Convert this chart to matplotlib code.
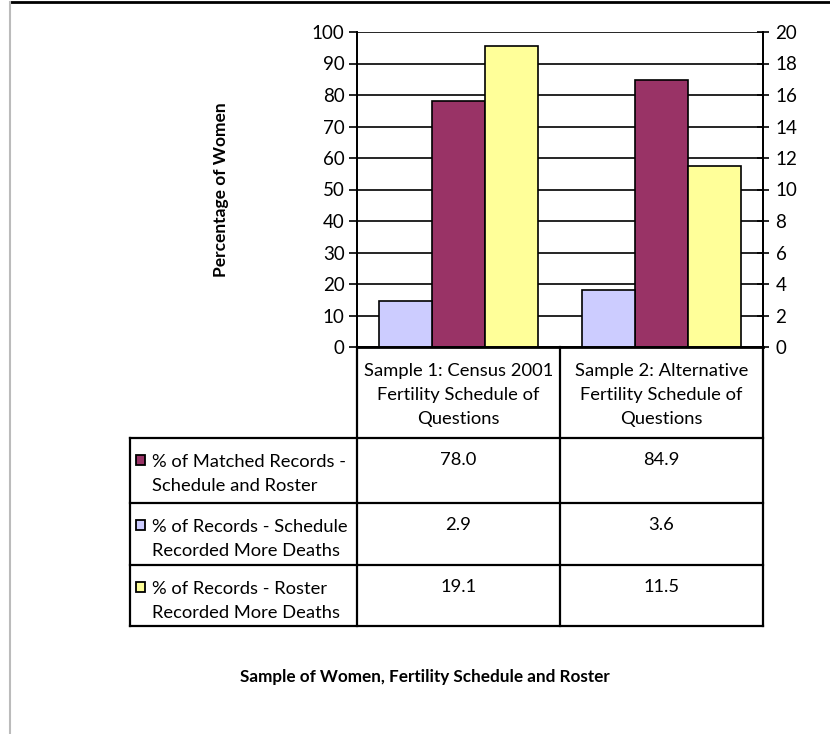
import matplotlib
matplotlib.use("Agg")
import matplotlib.pyplot as plt
from matplotlib.lines import Line2D
from matplotlib.patches import Rectangle

plt.rcParams['font.family'] = ['Lato', 'DejaVu Sans']

# data
categories = ["Sample 1: Census 2001\nFertility Schedule of\nQuestions",
              "Sample 2: Alternative\nFertility Schedule of\nQuestions"]
series_names = ["% of Matched Records -\nSchedule and Roster",
                "% of Records - Schedule\nRecorded More Deaths",
                "% of Records - Roster\nRecorded More Deaths"]
matched = [78.0, 84.9]          # left axis
schedule_more = [2.9, 3.6]      # right axis
roster_more = [19.1, 11.5]      # right axis
colors = ["#993366", "#CCCCFF", "#FFFF99"]

W, H = 830, 734
fig = plt.figure(figsize=(W / 100, H / 100), dpi=100)

# plot area in pixels
L, R, T, B = 357, 763, 32, 347
ax = fig.add_axes([L / W, 1 - B / H, (R - L) / W, (B - T) / H])
ax2 = ax.twinx()

x = [0, 1]
bw = 0.26
ax.set_axisbelow(True)
ax.bar(x, matched, bw, color=colors[0], edgecolor="black", linewidth=1.2, zorder=3)
ax2.bar([i - bw for i in x], schedule_more, bw, color=colors[1], edgecolor="black", linewidth=1.2)
ax2.bar([i + bw for i in x], roster_more, bw, color=colors[2], edgecolor="black", linewidth=1.2)

ax.set_xlim(-0.5, 1.5)
ax.set_ylim(0, 100)
ax2.set_ylim(0, 20)
ax.set_yticks(range(0, 101, 10))
ax2.set_yticks(range(0, 21, 2))
ax.set_xticks([])
ax.yaxis.grid(True, color="black", linewidth=1.2)
for a in (ax, ax2):
    a.tick_params(axis="y", labelsize=13.5, length=6, width=1.2, color="black", pad=3)
    for s in a.spines.values():
        s.set_color("black")
        s.set_linewidth(1.3)
    a.spines["top"].set_visible(False)
ax.spines["bottom"].set_linewidth(2)
ax2.tick_params(axis="y", direction="inout", length=8, pad=5)

ax.set_ylabel("Percentage of Women", fontsize=12.5, fontweight="bold", labelpad=0)
ax.yaxis.set_label_coords((229 - L) / (R - L), 0.5)

# data table drawn in pixel coordinates
tb = fig.add_axes([0, 0, 1, 1])
tb.set_xlim(0, W)
tb.set_ylim(H, 0)
tb.axis("off")
tb.patch.set_alpha(0)

tl, mid = 130, (L + R) / 2
rows = [B, 438, 503, 565, 626]
lw = 1.6
for y in rows[1:]:
    tb.add_line(Line2D([tl, R], [y, y], color="black", linewidth=lw))
for xx in (L, mid, R):
    tb.add_line(Line2D([xx, xx], [B, rows[-1]], color="black", linewidth=lw))
tb.add_line(Line2D([tl, tl], [rows[1], rows[-1]], color="black", linewidth=lw))

fs = 13.2
centers = [(L + mid) / 2, (mid + R) / 2]
for c, lab in zip(centers, categories):
    tb.text(c, 395, lab, ha="center", va="center", fontsize=fs, linespacing=1.62)

table_vals = [matched, schedule_more, roster_more]
for i, (name, vals) in enumerate(zip(series_names, table_vals)):
    top = rows[i + 1]
    tb.add_patch(Rectangle((136, top + 17), 9, 10, facecolor=colors[i],
                           edgecolor="black", linewidth=1.3))
    tb.text(152, top + 36, name, ha="left", va="center", fontsize=fs, linespacing=1.62)
    for c, v in zip(centers, vals):
        tb.text(c, top + 22, f"{v:.1f}", ha="center", va="center", fontsize=fs)

tb.text(425, 677, "Sample of Women, Fertility Schedule and Roster",
        ha="center", va="center", fontsize=12.3, fontweight="bold")

# outer frame lines
tb.add_line(Line2D([10, W], [2, 2], color="black", linewidth=2))
tb.add_line(Line2D([10, 10], [2, H], color="#bbbbbb", linewidth=1.5))

fig.savefig("out.png", dpi=100)
